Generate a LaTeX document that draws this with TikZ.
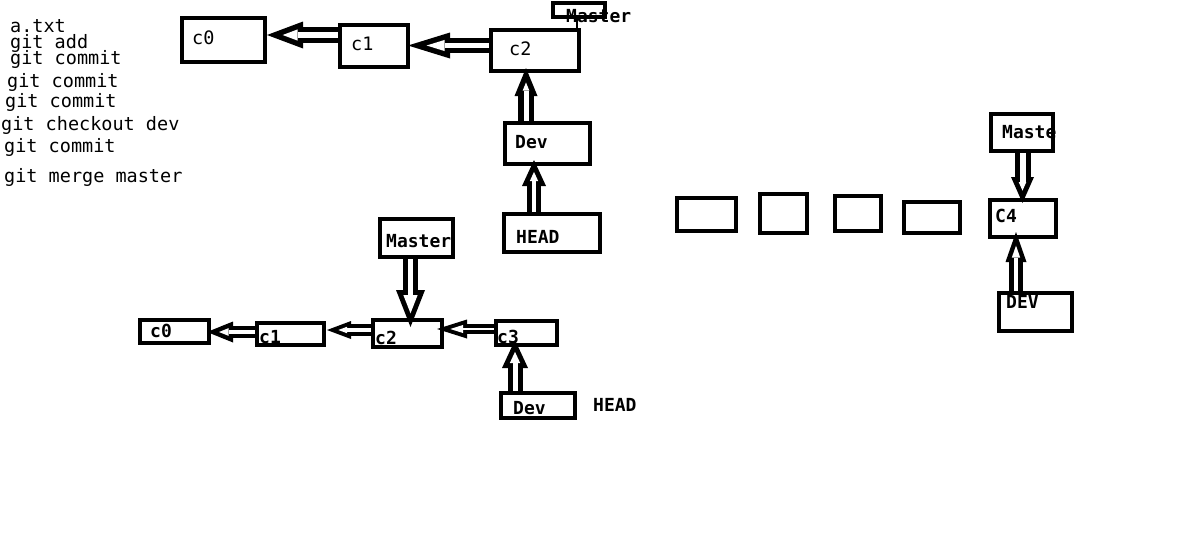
\documentclass[tikz,border=0pt]{standalone}
\usepackage{fontspec}
\setmonofont{DejaVu Sans Mono}
\usetikzlibrary{arrows.meta}
\pgfdeclarelayer{background}
\pgfsetlayers{background,main}
\tikzset{
  box/.style={draw, line width=4.5pt, rectangle, inner sep=0pt, outer sep=0pt},
  cmd/.style={anchor=base west, inner sep=0pt, font=\ttfamily\fontsize{18.5}{18.5}\selectfont},
  lbl/.style={anchor=base west, inner sep=0pt, font=\ttfamily\fontsize{18.5}{18.5}\selectfont},
  blbl/.style={anchor=base west, inner sep=0pt, font=\ttfamily\bfseries\fontsize{18}{18}\selectfont},
  fat/.style n args={4}{%
    /utils/exec={%
      \pgfmathsetmacro\fatd{#4*sqrt((#2/2)^2+(#3)^2)/(#2/2)}%
      \pgfmathsetmacro\fatLi{#3-#4-\fatd}%
      \pgfmathsetmacro\fatWi{#2*\fatLi/#3}%
      \pgfmathsetmacro\fatSi{#1-2*#4}},
    draw=black, line width=#1pt,
    -{Triangle[length=#3pt, width=#2pt, line width=0pt]},
    postaction={draw=white, line width=\fatSi pt,
      -{Triangle[length=\fatLi pt, width=\fatWi pt, line width=0pt]},
      shorten >=\fatd pt}},
  tick/.style={line width=2pt}
}
\begin{document}
\begin{tikzpicture}[x=1pt, y=-1pt]
\useasboundingbox (0,0) rectangle (1187,554);
% commands
\node[cmd] (t1) at (10,32) {a.txt};
\node[cmd] (t2) at (10,48) {git add};
\node[cmd] (t3) at (10,64) {git commit};
\node[cmd] (t4) at (7,87) {git commit};
\node[cmd] (t5) at (5,107) {git commit};
\node[cmd] (t6) at (1,130) {git checkout dev};
\node[cmd] (t7) at (4,152) {git commit};
\node[cmd] (t8) at (4,182) {git merge master};
% top row
\node[box, minimum width=83pt, minimum height=44pt] (c0T) at (223.5,40) {};
\node[box, minimum width=68pt, minimum height=42pt] (c1T) at (374,46) {};
\node[box, minimum width=88pt, minimum height=41pt] (c2T) at (535,50.5) {};
\node[box, minimum width=52pt, minimum height=14pt] (masterT) at (579,10) {};
\node[box, minimum width=85pt, minimum height=41pt] (devT) at (547.5,143.5) {};
\node[box, minimum width=96pt, minimum height=38pt] (headT) at (552,233) {};
\node[lbl] (c0Tl) at (192,45) {c0};
\node[lbl] (c1Tl) at (351,50) {c1};
\node[lbl] (c2Tl) at (509,56) {c2};
\node[blbl] (masterTl) at (566,23) {Master};
\node[blbl] (devTl) at (515,148) {Dev};
\node[blbl] (headTl) at (516,243) {HEAD};
% bottom row
\node[box, minimum width=73pt, minimum height=38pt] (masterB) at (416.5,238) {};
\node[box, minimum width=69pt, minimum height=23pt] (c0B) at (174.5,331.5) {};
\node[box, minimum width=67pt, minimum height=22pt] (c1B) at (290.5,334) {};
\node[box, minimum width=69pt, minimum height=27pt] (c2B) at (407.5,333.5) {};
\node[box, minimum width=61pt, minimum height=24pt] (c3B) at (526.5,333) {};
\node[box, minimum width=74pt, minimum height=25pt] (devB) at (538,405.5) {};
\node[blbl] (masterBl) at (386,247) {Master};
\node[blbl] (c0Bl) at (150,337) {c0};
\node[blbl] (c1Bl) at (259,343) {c1};
\node[blbl] (c2Bl) at (375,344) {c2};
\node[blbl] (c3Bl) at (497,343) {c3};
\node[blbl] (devBl) at (513,414) {Dev};
\node[blbl] (headBl) at (593,411) {HEAD};
% right part
\node[box, minimum width=59pt, minimum height=33pt] (e1) at (706.5,214.5) {};
\node[box, minimum width=47pt, minimum height=39pt] (e2) at (783.5,213.5) {};
\node[box, minimum width=46pt, minimum height=35pt] (e3) at (858,213.5) {};
\node[box, minimum width=56pt, minimum height=31pt] (e4) at (932,217.5) {};
\node[box, minimum width=62pt, minimum height=37pt] (masterR) at (1022,132.5) {};
\node[box, minimum width=66pt, minimum height=37pt] (c4R) at (1023,218.5) {};
\node[box, minimum width=73pt, minimum height=38pt] (devR) at (1035.5,312) {};
\node[blbl] (masterRl) at (1002,138) {Maste};
\node[blbl] (c4Rl) at (995,222) {C4};
\node[blbl] (devRl) at (1006,308) {DEV};
% connectors
\begin{pgfonlayer}{background}
\draw[fat={16.5}{27}{36}{5.5}] ([yshift=11pt]c1T.west) -- ([xshift=2pt,yshift=5pt]c0T.east);
\draw[fat={15.5}{26}{42}{5.5}] ([yshift=5pt]c2T.west) -- ([yshift=0.5pt]c1T.east);
\draw[fat={16}{23}{28}{5.5}] ([xshift=-21.5pt]devT.north) -- ([xshift=-9pt,yshift=3pt]c2T.south);
\draw[fat={14.5}{24}{26}{5}] ([xshift=-18pt]headT.north) -- ([xshift=-13.5pt,yshift=4pt]devT.south);
\draw[tick] ([xshift=-2pt]masterT.south) -- ([xshift=42pt]c2T.north);
\draw[fat={12.5}{21}{26}{4.5}] ([yshift=2pt]c1B.west) -- ([xshift=-2pt,yshift=-0.5pt]c0B.east);
\draw[fat={11.5}{18}{24}{4}] ([yshift=3.5pt]c2B.west) -- ([xshift=3pt,yshift=4pt]c1B.east);
\draw[fat={10.5}{19}{30}{4}] ([yshift=4pt]c3B.west) -- ([xshift=-5pt,yshift=4.5pt]c2B.east);
\draw[fat={15}{29}{37}{5}] ([xshift=-6pt]masterB.south) -- ([xshift=3pt,yshift=-7pt]c2B.north);
\draw[fat={15}{26}{28}{5}] ([xshift=-23pt]devB.north) -- ([xshift=-11.5pt,yshift=-7pt]c3B.center);
\draw[fat={16}{23}{26}{5}] ([xshift=0.5pt]masterR.south) -- ([xshift=-0.5pt,yshift=-3pt]c4R.north);
\draw[fat={13.5}{21}{30}{4.5}] ([xshift=-19.5pt]devR.north) -- ([xshift=-7pt,yshift=5pt]c4R.south);
\end{pgfonlayer}
\end{tikzpicture}
\end{document}
